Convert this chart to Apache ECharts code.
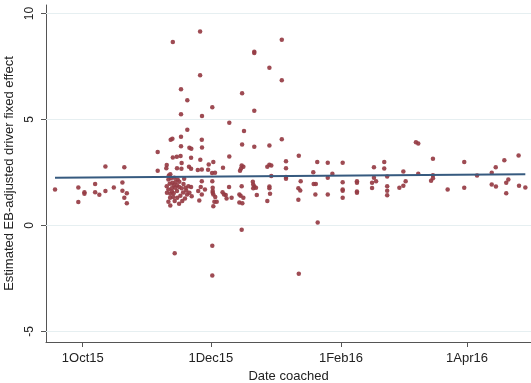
<!DOCTYPE html>
<html><head><meta charset="utf-8">
<script src="https://cdn.jsdelivr.net/npm/echarts@6/dist/echarts.min.js"></script>
<style>html,body{margin:0;padding:0;background:#fff}#c{width:531px;height:383px}</style>
</head><body><div id="c"></div>
<script>
// x: days since 1 Oct 2015 ; y: estimated EB-adjusted driver fixed effect
const daysCoached = [
-13.2,-2.1,-2.1,0.8,0.8,5.9,5.9,7.9,10.8,10.8,14.8,18.9,18.9,19.8,21.0,19.8,21.0,35.7,35.7,
42.9,55.9,81.7,81.7,94.8,55.9,88.9,94.8,46.8,49.8,75.9,61.7,46.8,56.8,81.7,69.8,102.9,
49.8,41.9,42.7,46.8,56.7,46.8,50.8,51.7,56.8,42.9,44.8,46.6,51.6,56.0,60.0,62.2,47.1,40.0,39.8,44.9,47.0,50.6,51.6,54.8,56.7,59.7,61.6,41.7,
40.8,42.0,43.6,45.2,46.0,41.4,42.7,40.0,43.3,44.9,40.8,42.4,44.0,45.9,47.1,49.0,50.3,51.6,40.1,41.7,43.3,44.9,41.6,43.1,40.8,41.7,45.9,47.4,48.7,49.7,50.8,49.3,51.9,55.0,56.2,56.7,56.7,55.5,58.2,61.9,62.7,62.2,61.7,
42.5,44.2,46.5,48.0,43.8,47.8,45.0,41.0,48.3,
43.8,61.7,61.7,102.9,111.9,75.7,
76.8,75.9,81.7,88.9,94.8,69.8,66.8,75.7,76.5,75.4,74.9,87.9,88.9,89.8,96.8,96.8,63.0,89.8,96.8,96.8,61.9,61.9,62.2,63.1,63.8,69.7,66.6,67.3,68.1,68.5,70.9,75.7,74.6,75.2,76.5,74.6,76.0,81.0,81.2,81.7,82.5,81.2,82.9,88.9,88.9,89.2,87.9,
111.7,116.7,123.8,143.6,143.6,138.7,109.8,118.9,116.7,138.7,145.0,103.8,110.0,111.0,123.8,130.6,130.6,137.8,139.7,145.0,102.7,103.6,123.8,123.8,130.6,130.6,137.8,145.0,110.8,116.7,123.8,145.0,102.7,
158.7,159.8,166.8,181.7,207.6,200.8,196.7,152.7,159.8,166.8,166.8,165.9,187.8,194.8,202.7,201.7,153.8,152.7,150.8,194.8,196.8,207.8,210.8,173.8,181.7,201.7
];
const driverEffect = [
1.70,1.79,1.10,1.57,1.49,1.95,1.57,1.45,2.78,1.62,1.79,2.03,1.64,2.74,1.52,1.31,1.05,3.46,2.58,
8.65,9.15,8.19,8.13,8.76,7.09,7.44,6.85,6.42,5.91,6.24,5.57,5.25,5.16,5.41,4.84,3.29,
4.51,4.04,4.09,4.18,4.04,3.74,3.66,3.62,3.68,3.21,3.24,3.27,3.19,3.10,2.88,2.99,2.94,2.85,2.70,2.70,2.67,2.77,2.67,2.61,2.64,2.63,2.47,2.41,
2.17,2.22,2.25,2.17,2.06,1.97,2.01,1.85,1.89,1.90,1.70,1.75,1.78,1.81,1.75,1.78,1.85,1.81,1.54,1.49,1.52,1.62,1.31,1.34,1.12,0.94,1.02,1.15,1.27,1.46,1.54,1.65,1.38,1.62,1.81,2.09,1.46,1.18,1.70,1.62,1.12,0.91,2.09,
1.60,2.05,1.40,1.95,1.15,1.55,1.30,2.35,2.20,
-1.31,-0.96,-2.36,-2.28,0.14,-0.20,
4.45,3.82,3.71,3.77,4.07,3.25,2.72,2.83,2.77,2.69,2.58,2.77,2.86,2.83,3.03,2.70,2.49,2.33,2.28,2.20,1.78,1.54,1.46,1.34,1.12,1.81,1.57,1.46,1.43,1.27,1.31,1.85,1.46,1.40,1.31,1.08,1.05,2.06,1.93,1.84,1.78,1.75,1.43,1.84,1.75,1.49,1.15,
2.99,2.96,2.96,2.99,2.69,2.75,2.51,2.44,2.25,2.25,2.31,2.09,1.95,1.95,2.04,2.08,2.01,2.01,2.08,1.85,1.75,1.65,1.70,1.64,1.60,1.54,1.76,1.64,1.46,1.46,1.31,1.42,1.21,
3.93,3.87,3.15,2.99,3.30,3.07,2.74,2.55,2.44,2.37,2.22,2.11,2.36,2.49,2.17,2.01,2.09,1.87,1.78,1.93,1.84,1.87,1.79,1.70,1.78,1.52
];
const fitDays = [-13.2, 210.8];
const fitEffect = [2.25, 2.42];
const xTickDays = [0, 61, 123, 183];
const xTickLabels = ['1Oct15', '1Dec15', '1Feb16', '1Apr16'];
const yTicks = [-5, 0, 5, 10];

const chart = echarts.init(document.getElementById('c'), null, {renderer: 'canvas', width: 531, height: 383});
const font = 'Liberation Sans, Arial, sans-serif';
const txt = '#222';
chart.setOption({
  animation: false,
  backgroundColor: '#ffffff',
  grid: {left: 46, right: 0, top: 5, bottom: 41, containLabel: false, outerBoundsMode: 'none'},
  xAxis: {
    type: 'value', min: -17.5, max: 213.5,
    name: 'Date coached', nameLocation: 'middle', nameGap: 23,
    nameTextStyle: {color: txt, fontSize: 13, fontFamily: font},
    axisLine: {onZero: false, lineStyle: {color: '#555', width: 1}},
    axisTick: {show: true, customValues: xTickDays, length: 5, lineStyle: {color: '#555'}},
    axisLabel: {customValues: xTickDays, margin: 10, color: txt, fontSize: 13, fontFamily: font,
      formatter: v => xTickLabels[xTickDays.indexOf(v)] || ''},
    splitLine: {show: false}
  },
  yAxis: {
    type: 'value', min: -5.5, max: 10.4,
    name: 'Estimated EB-adjusted driver fixed effect', nameLocation: 'middle', nameGap: 23,
    nameTextStyle: {color: txt, fontSize: 13, fontFamily: font},
    axisLine: {show: true, onZero: false, lineStyle: {color: '#555', width: 1}},
    axisTick: {show: true, customValues: yTicks, length: 5, lineStyle: {color: '#555'}},
    axisLabel: {customValues: yTicks, rotate: 90, margin: 10, color: txt, fontSize: 12, fontFamily: font},
    splitLine: {show: false}
  },
  series: [
    {
      type: 'line', data: [], z: 1, silent: true,
      markLine: {silent: true, symbol: 'none', label: {show: false}, animation: false,
        lineStyle: {color: '#e6eff1', width: 1, type: 'solid'},
        data: yTicks.map(v => ({yAxis: v}))}
    },
    {
      type: 'scatter', z: 2, symbol: 'circle', symbolSize: 4.5,
      itemStyle: {color: '#963c44', opacity: 0.92},
      data: daysCoached.map((d, i) => [d, driverEffect[i]])
    },
    {
      type: 'line', z: 3, symbol: 'none',
      lineStyle: {color: '#365a7f', width: 2},
      data: fitDays.map((d, i) => [d, fitEffect[i]])
    }
  ]
});
</script>
</body></html>
